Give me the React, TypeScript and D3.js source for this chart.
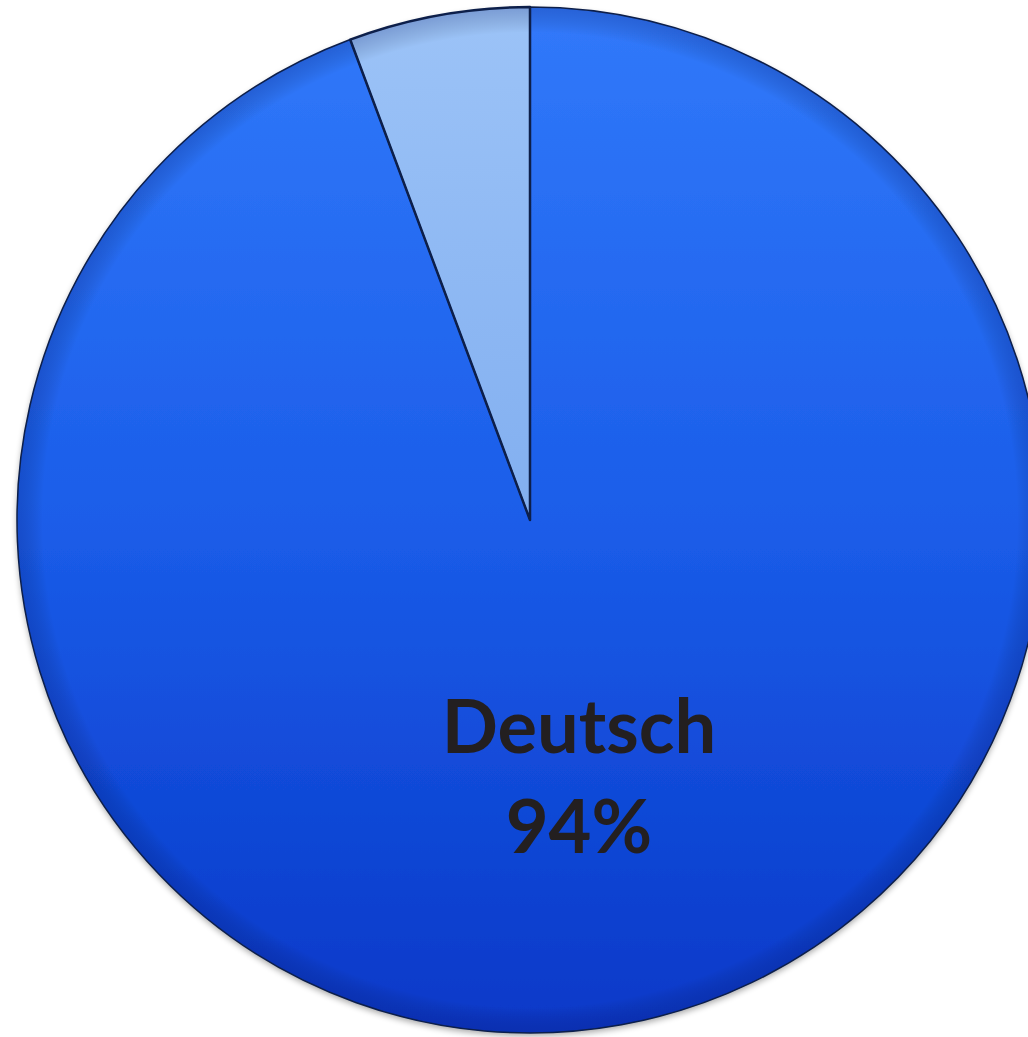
import React from "react";
import * as d3 from "d3";

const categories = ["Deutsch", "Andere"];
const values = [94.3, 5.7];
const showLabel = [true, false];

export default function App() {
  const width = 1028;
  const height = 1037;
  const cx = 530;
  const cy = 520;
  const r = 513;

  const pie = d3.pie<number>().sort(null).value((d) => d);
  const arcs = pie(values);
  const arc = d3.arc<d3.PieArcDatum<number>>().innerRadius(0).outerRadius(r);
  const labelArc = d3
    .arc<d3.PieArcDatum<number>>()
    .innerRadius(r * 0.535)
    .outerRadius(r * 0.535);

  return (
    <svg
      width={width}
      height={height}
      style={{ position: "absolute", left: 0, top: 0, background: "#ffffff" }}
    >
      <defs>
        <linearGradient id="gradMain" x1="0" y1={-r} x2="0" y2={r} gradientUnits="userSpaceOnUse">
          <stop offset="0" stopColor="#3179fa" />
          <stop offset="0.5" stopColor="#1b5de9" />
          <stop offset="1" stopColor="#0838c8" />
        </linearGradient>
        <linearGradient id="gradLight" x1="0" y1="0" x2="0" y2="1">
          <stop offset="0" stopColor="#9cc3f7" />
          <stop offset="1" stopColor="#82aff0" />
        </linearGradient>
        <radialGradient id="rim" cx="0.5" cy="0.5" r="0.5">
          <stop offset="0.95" stopColor="#000" stopOpacity="0" />
          <stop offset="1" stopColor="#001060" stopOpacity="0.22" />
        </radialGradient>
        <filter id="shadow" x="-10%" y="-10%" width="120%" height="120%">
          <feGaussianBlur in="SourceAlpha" stdDeviation="3" />
          <feOffset dx="0" dy="3" result="b" />
          <feComponentTransfer><feFuncA type="linear" slope="0.35" /></feComponentTransfer>
          <feMerge>
            <feMergeNode />
            <feMergeNode in="SourceGraphic" />
          </feMerge>
        </filter>
      </defs>
      <g transform={`translate(${cx},${cy})`} filter="url(#shadow)">
        {arcs.map((a, i) => (
          <path
            key={categories[i]}
            d={arc(a) || ""}
            fill={i === 0 ? "url(#gradMain)" : "url(#gradLight)"}
          />
        ))}
      </g>
      <g transform={`translate(${cx},${cy})`}>
        <circle r={r} fill="url(#rim)" />
        {arcs.map((a, i) => (
          <path
            key={"o" + categories[i]}
            d={arc(a) || ""}
            fill="none"
            stroke="#0d1f4a"
            strokeWidth={i === 1 ? 2.5 : 1.5}
            strokeLinejoin="round"
          />
        ))}
        {arcs.map((a, i) => {
          if (!showLabel[i]) return null;
          const [lx, ly] = labelArc.centroid(a);
          return (
            <text
              key={"t" + categories[i]}
              x={lx}
              y={ly}
              textAnchor="middle"
              fontFamily="Lato, 'Open Sans', sans-serif"
              fontWeight={700}
              fontSize={74}
              fill="#231f20"
            >
              <tspan x={lx} dy={-37}>{categories[i]}</tspan>
              <tspan x={lx} dy={100}>{Math.round((a.value / d3.sum(values)) * 100)}%</tspan>
            </text>
          );
        })}
      </g>
    </svg>
  );
}
